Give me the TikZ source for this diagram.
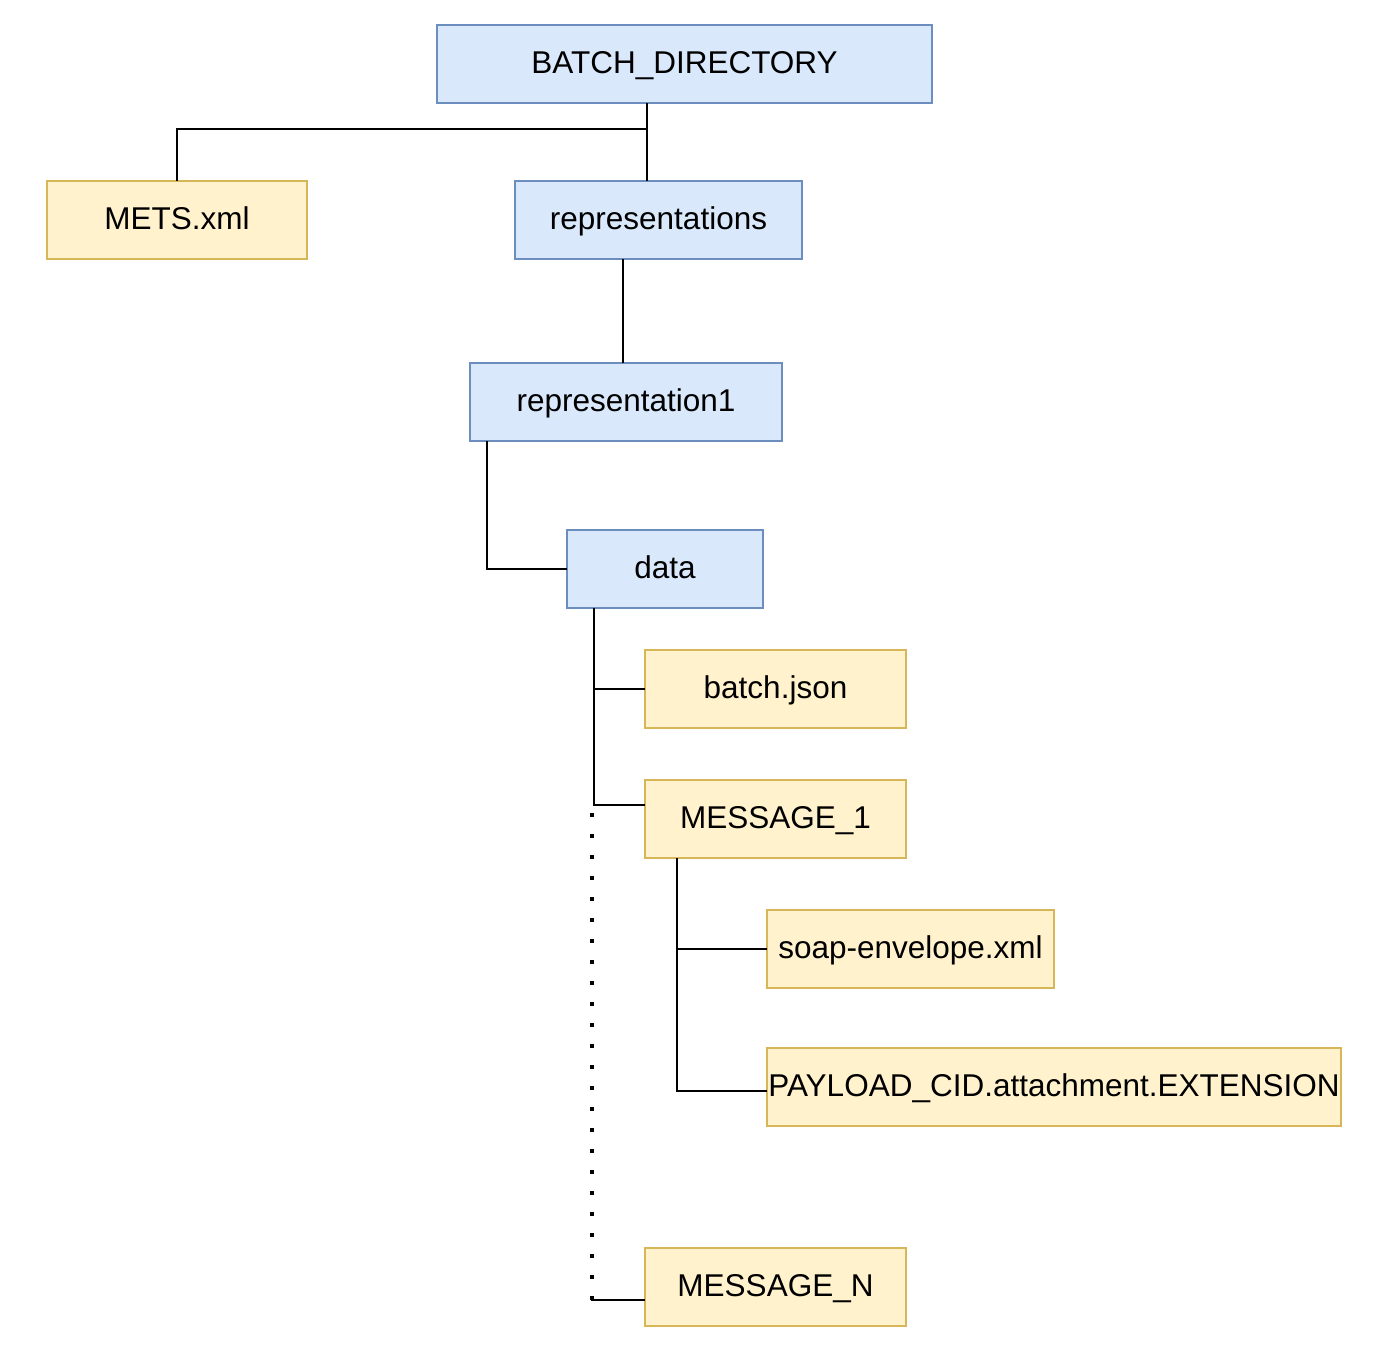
\documentclass[tikz,border=0pt]{standalone}
\usepackage{fontspec}
\setmainfont{Liberation Sans}
\usepackage{tikz}
\tikzset{>=latex}
\definecolor{folderfill}{HTML}{DAE8FC}
\definecolor{folderline}{HTML}{6C8EBF}
\definecolor{filefill}{HTML}{FFF2CC}
\definecolor{fileline}{HTML}{D6B656}
\tikzset{
    folder/.style={draw=folderline, fill=folderfill, line width=2.6pt, minimum height=78pt, inner sep=0pt, text height=22.6pt, text depth=3pt, font=\fontsize{31.5}{36}\selectfont},
    file/.style={draw=fileline, fill=filefill, line width=2.6pt, minimum height=78pt, inner sep=0pt, text height=22.6pt, text depth=3pt, font=\fontsize{31.5}{36}\selectfont},
    tree/.style={line width=2.8pt, line cap=rect},
}

\begin{document}
\begin{tikzpicture}[x=1pt, y=-1pt]
            \useasboundingbox (0, 0) rectangle (1388, 1353);
            \node[folder, minimum width=495pt] (batchdir) at (684.5, 64) {BATCH\_DIRECTORY};
            \node[file, minimum width=260pt] (mets) at (177, 220) {METS.xml};
            \node[folder, minimum width=287pt] (reps) at (658.5, 220) {representations};
            \node[folder, minimum width=312pt] (rep1) at (626, 402) {representation1};
            \node[folder, minimum width=196pt] (data) at (665, 569) {data};
            \node[file, minimum width=261pt] (batchjson) at (775.5, 689) {batch.json};
            \node[file, minimum width=261pt] (msg1) at (775.5, 819) {MESSAGE\_1};
            \node[file, minimum width=287pt] (soap) at (910.5, 949) {soap-envelope.xml};
            \node[file, minimum width=574pt] (payload) at (1054, 1087) {PAYLOAD\_CID.attachment.EXTENSION};
            \node[file, minimum width=261pt] (msgN) at (775.5, 1287) {MESSAGE\_N};
            % branch points
            \coordinate (rootsplit) at (647, 129);
            \coordinate (repsline) at (623, 0);
            \coordinate (rep1line) at (487, 0);
            \coordinate (dataline) at (594, 0);
            \coordinate (msgline) at (677, 0);
            \coordinate (dotstart) at (592, 813);
            \coordinate (dotend) at (592, 1300);
            \draw[tree] (batchdir.south -| rootsplit) -- (rootsplit) -- (rootsplit -| mets.north) -- (mets.north);
            \draw[tree] (rootsplit) -- (rootsplit |- reps.north);
            \draw[tree] (reps.south -| repsline) -- (rep1.north -| repsline);
            \draw[tree] (rep1.south -| rep1line) -- (rep1line |- data.west) -- (data.west);
            \draw[tree] (data.south -| dataline) -- ([yshift=14pt]msg1.west -| dataline) -- ([yshift=14pt]msg1.west);
            \draw[tree] (dataline |- batchjson.west) -- (batchjson.west);
            \draw[line width=4pt, dash pattern=on 4pt off 17pt] (dotstart) -- (dotend);
            \draw[tree] (dotend) -- (dotend -| msgN.west);
            \draw[tree] (msg1.south -| msgline) -- ([yshift=-4pt]payload.west -| msgline) -- ([yshift=-4pt]payload.west);
            \draw[tree] (msgline |- soap.west) -- (soap.west);
        \end{tikzpicture}
\end{document}
